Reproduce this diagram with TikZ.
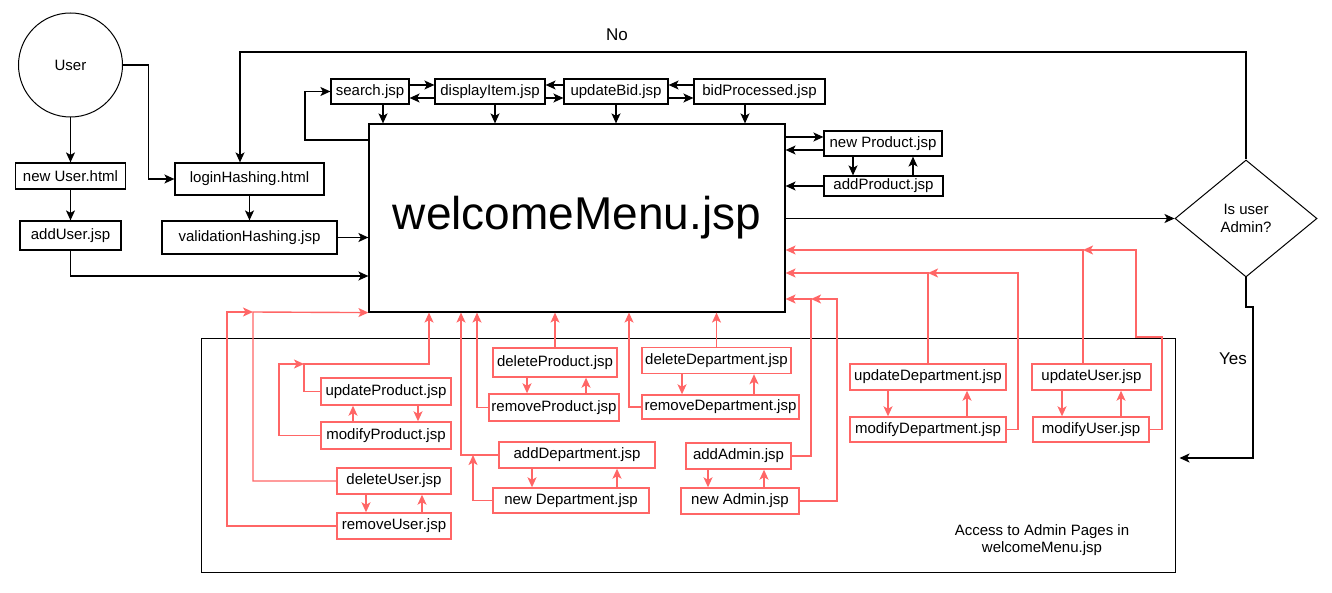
\documentclass[tikz,border=0pt]{standalone}
\usepackage{fontspec}
\setmainfont{Liberation Sans}
\usepackage{xcolor}
\usepackage{tikz}
\usetikzlibrary{
  positioning,
  arrows.meta,
  shapes.geometric
}
\definecolor{admred}{HTML}{FF6666}
\newcommand\lblfont{\fontsize{15}{17.5}\selectfont}
\tikzset{
  >={Stealth[length=10pt,width=9pt,inset=2.5pt]},
  flow/.style={->,line width=1.3pt},
  admflow/.style={->,line width=1.4pt,draw=admred},
  page/.style={rectangle,draw,line width=1.2pt,align=center,inner sep=0.5pt},
  admpage/.style={page,draw=admred,line width=1.4pt},
  choice/.style={diamond,draw,line width=1pt,align=center,inner sep=0pt},
  actor/.style={circle,draw,line width=1pt,minimum size=104pt}
}

\begin{document}
\begin{tikzpicture}[x=1pt,y=-1pt,font=\lblfont]
    \useasboundingbox (0,0) rectangle (1332,593);

    % user side
    \node[actor] (user) at (70.5,65) {User};
    \node[page,minimum width=110,minimum height=26] (newusr) at (70.5,176) {new User.html};
    \node[page,minimum width=101,minimum height=29] (addusr) at (70.5,235.5) {addUser.jsp};
    \node[page,minimum width=149,minimum height=32] (login) at (249.5,179) {loginHashing.html};
    \node[page,minimum width=175,minimum height=33] (valid) at (249.5,237.5) {validationHashing.jsp};

    % main menu and bidding pages
    \node[page,minimum width=416,minimum height=188,font=\fontsize{46}{50}\selectfont] (menu) at (577,218) {welcomeMenu.jsp};
    \node[page,minimum width=78,minimum height=25] (search) at (370,91.5) {search.jsp};
    \node[page,minimum width=110,minimum height=25] (disp) at (490,91.5) {displayItem.jsp};
    \node[page,minimum width=104,minimum height=25] (bid) at (616,91.5) {updateBid.jsp};
    \node[page,minimum width=131,minimum height=25] (proc) at (759.5,91.5) {bidProcessed.jsp};
    \node[page,minimum width=118,minimum height=25] (newprod) at (883,143.5) {new Product.jsp};
    \node[page,minimum width=119,minimum height=20] (addprod) at (883.5,186) {addProduct.jsp};
    \node[choice,minimum width=142,minimum height=117] (adm) at (1246,218.5) {Is user\\Admin?};

    % admin area
    \node[draw,line width=1pt,minimum width=974,minimum height=234] (admbox) at (688,455) {};
    \node[align=center] (admlbl) at (1042,540) {Access to Admin Pages in\\welcomeMenu.jsp};
    \node[admpage,minimum width=130,minimum height=27] (updprod) at (386,391.5) {updateProduct.jsp};
    \node[admpage,minimum width=130,minimum height=27] (modprod) at (386,435.5) {modifyProduct.jsp};
    \node[admpage,minimum width=114,minimum height=26] (delusr) at (394,481) {deleteUser.jsp};
    \node[admpage,minimum width=114,minimum height=26] (remusr) at (394,526) {removeUser.jsp};
    \node[admpage,minimum width=124,minimum height=29] (delprod) at (555,362.5) {deleteProduct.jsp};
    \node[admpage,minimum width=130,minimum height=27] (remprod) at (554,407.5) {removeProduct.jsp};
    \node[admpage,minimum width=156,minimum height=26] (adddep) at (577,455) {addDepartment.jsp};
    \node[admpage,minimum width=156,minimum height=25] (newdep) at (571,500.5) {new Department.jsp};
    \node[admpage,minimum width=149,minimum height=26] (deldep) at (716.5,360.5) {deleteDepartment.jsp};
    \node[admpage,minimum width=157,minimum height=24] (remdep) at (720.5,407) {removeDepartment.jsp};
    \node[admpage,minimum width=105,minimum height=26] (addadm) at (738.5,456) {addAdmin.jsp};
    \node[admpage,minimum width=118,minimum height=26] (newadm) at (740,501) {new Admin.jsp};
    \node[admpage,minimum width=156,minimum height=26] (upddep) at (928,377) {updateDepartment.jsp};
    \node[admpage,minimum width=156,minimum height=25] (moddep) at (928,429.5) {modifyDepartment.jsp};
    \node[admpage,minimum width=119,minimum height=26] (updusr) at (1091.5,377) {updateUser.jsp};
    \node[admpage,minimum width=116,minimum height=25] (modusr) at (1091,429.5) {modifyUser.jsp};

    \node[font=\fontsize{17}{20}\selectfont] (nolbl) at (617,35) {No};
    \node[font=\fontsize{17}{20}\selectfont] (yeslbl) at (1233,359) {Yes};

    % black connectors
    \draw[flow] (user.south) -- (newusr.north);
    \draw[flow] (newusr) -- (addusr);
    \draw[flow] (user.east) -- ++(25.5,0) |- (login.west);
    \draw[flow] (login) -- (valid);
    \draw[flow] (valid.east) -- (valid.east -| menu.west);
    \draw[flow] (addusr.south) |- (menu.west |- 0,276);
    \draw[flow] (menu.west |- 0,140) -| (305,91.5) -- (search.west);
    \draw[flow] (search.east |- 0,85) -- (disp.west |- 0,85);
    \draw[flow] (disp.west |- 0,98) -- (search.east |- 0,98);
    \draw[flow] (bid.west |- 0,85) -- (disp.east |- 0,85);
    \draw[flow] (disp.east |- 0,98) -- (bid.west |- 0,98);
    \draw[flow] (proc.west |- 0,85) -- (bid.east |- 0,85);
    \draw[flow] (bid.east |- 0,98) -- (proc.west |- 0,98);
    \draw[flow] (search.south -| 383,0) -- (menu.north -| 383,0);
    \draw[flow] (disp.south -| 495,0) -- (menu.north -| 495,0);
    \draw[flow] (bid.south) -- (bid.south |- menu.north);
    \draw[flow] (proc.south -| 745,0) -- (menu.north -| 745,0);
    \draw[flow] (menu.east |- 0,137) -- (newprod.west |- 0,137);
    \draw[flow] (newprod.west |- 0,150) -- (menu.east |- 0,150);
    \draw[flow] (addprod.west) -- (addprod.west -| menu.east);
    \draw[flow] (newprod.south -| 853,0) -- (addprod.north -| 853,0);
    \draw[flow] (addprod.north -| 913,0) -- (newprod.south -| 913,0);
    \draw[flow] (menu.east |- adm.west) -- (adm.west);
    \draw[flow] (adm.north) -- (adm.north |- 0,52) -| (login.north -| 240,0);
    \draw[flow] (adm.south) -- (1246,307) -- (1253,307) |- ([xshift=4pt]admbox.east |- 0,458);

    % red connectors
    \draw[admflow] (updprod.west) -| (304,364) -| (menu.south -| 429,0);
    \draw[admflow] (modprod.west) -| (279,364) -- (304,364);
    \draw[admflow] (updprod.south -| 418,0) -- (modprod.north -| 418,0);
    \draw[admflow] (modprod.north -| 353,0) -- (updprod.south -| 353,0);
    \draw[admflow] (delusr.west) -| (253,312) -- (menu.south west);
    \draw[admflow] (remusr.west) -| (227,312) -- (253,312);
    \draw[admflow] (delusr.south -| 366,0) -- (remusr.north -| 366,0);
    \draw[admflow] (remusr.north -| 422,0) -- (delusr.south -| 422,0);
    \draw[admflow] (delprod.north) -- (delprod.north |- menu.south);
    \draw[admflow] (delprod.south -| 527,0) -- (remprod.north -| 527,0);
    \draw[admflow] (remprod.north -| 586,0) -- (delprod.south -| 586,0);
    \draw[admflow] (remprod.west) -| (menu.south -| 477,0);
    \draw[admflow] (adddep.west) -| (menu.south -| 461,0);
    \draw[admflow] (newdep.west) -| (adddep.west -| 473,0);
    \draw[admflow] (adddep.south -| 532,0) -- (newdep.north -| 532,0);
    \draw[admflow] (newdep.north -| 617,0) -- (adddep.south -| 617,0);
    \draw[admflow] (remdep.west) -| (menu.south -| 629,0);
    \draw[admflow] (deldep.north) -- (deldep.north |- menu.south);
    \draw[admflow] (deldep.south -| 682,0) -- (remdep.north -| 682,0);
    \draw[admflow] (remdep.north -| 754,0) -- (deldep.south -| 754,0);
    \draw[admflow] (addadm.east) -| (811,299) -- (menu.east |- 0,299);
    \draw[admflow] (newadm.east) -| (837,299) -- (811,299);
    \draw[admflow] (addadm.south -| 708,0) -- (newadm.north -| 708,0);
    \draw[admflow] (newadm.north -| 764,0) -- (addadm.south -| 764,0);
    \draw[admflow] (upddep.north) |- (menu.east |- 0,273);
    \draw[admflow] (moddep.east) -| (1018,273) -- (upddep.north |- 0,273);
    \draw[admflow] (upddep.south -| 888,0) -- (moddep.north -| 888,0);
    \draw[admflow] (moddep.north -| 967,0) -- (upddep.south -| 967,0);
    \draw[admflow] (updusr.north -| 1083,0) |- (menu.east |- 0,250);
    \draw[admflow] (modusr.east) -| (1162,337) -| (1136,250) -- (1083,250);
    \draw[admflow] (updusr.south -| 1062,0) -- (modusr.north -| 1062,0);
    \draw[admflow] (modusr.north -| 1121,0) -- (updusr.south -| 1121,0);
\end{tikzpicture}
\end{document}
